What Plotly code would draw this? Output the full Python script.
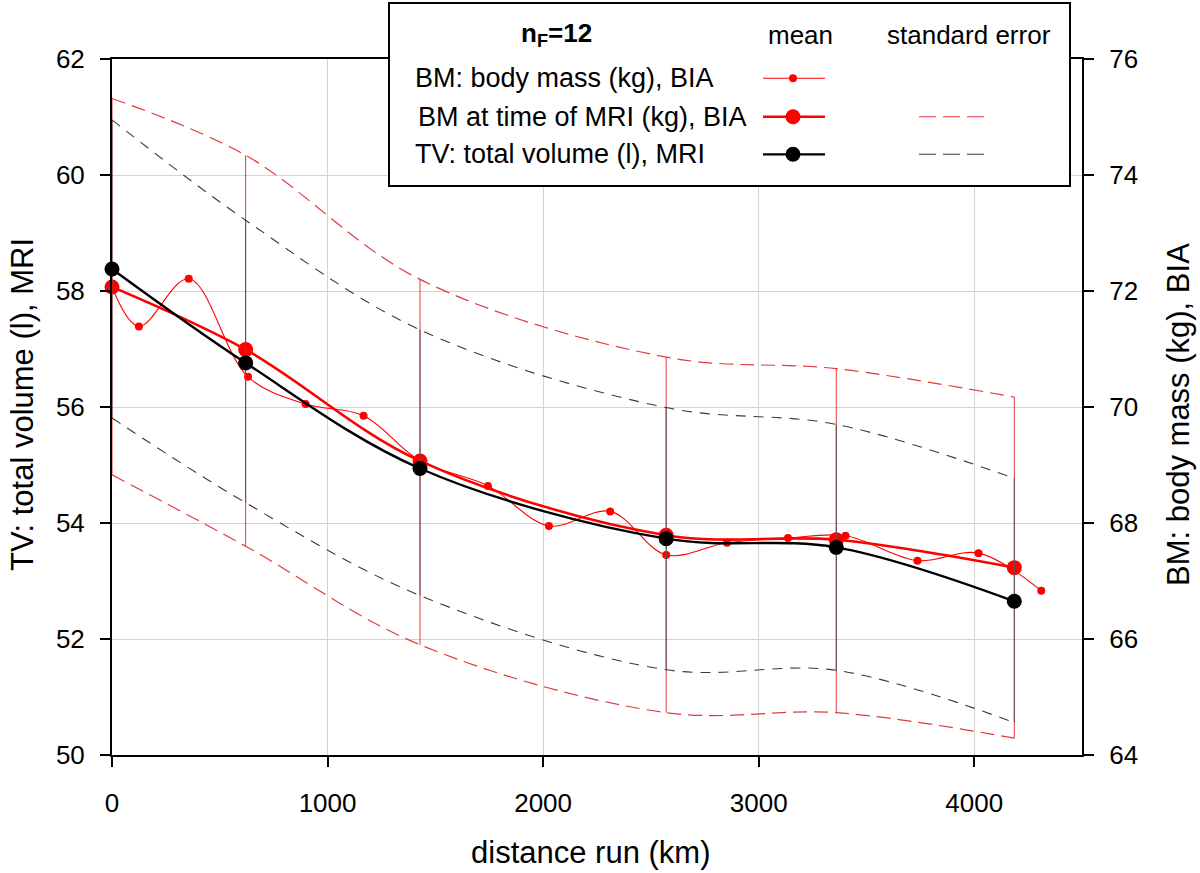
import plotly.graph_objects as go

# ---------------- data ----------------
mri_km = [0, 620, 1429, 2571, 3360, 4186]
tv_mean = [58.38, 56.76, 54.94, 53.73, 53.58, 52.65]
tv_se_upper = [60.95, 59.22, 57.33, 55.99, 55.70, 54.77]
tv_se_lower = [55.81, 54.35, 52.75, 51.47, 51.46, 50.56]

bm_mri_mean = [72.07, 70.99, 69.07, 67.79, 67.71, 67.23]
bm_mri_se_upper = [75.32, 74.34, 72.20, 70.86, 70.66, 70.17]
bm_mri_se_lower = [68.83, 67.60, 65.90, 64.73, 64.73, 64.29]

bia_km = [0, 125, 356, 631, 898, 1167, 1429, 1744, 2027, 2311, 2571, 2853,
          3136, 3403, 3737, 4020, 4311]
bia_bm = [72.07, 71.39, 72.21, 70.52, 70.05, 69.85, 69.07, 68.64, 67.95, 68.20,
          67.45, 67.66, 67.74, 67.78, 67.35, 67.48, 66.83]

x_ticks = [0, 1000, 2000, 3000, 4000]
tv_ticks = [50, 52, 54, 56, 58, 60, 62]
bm_ticks = [64, 66, 68, 70, 72, 74, 76]

# ---------------- styles ----------------
RED = "#ff0000"
RED_SE = "#e23a3a"
BLACK = "#000000"
GRAY_SE = "#3a3a3a"
FONT = "Liberation Sans, Arial, sans-serif"

W, H = 1200, 873
# target plot area on screen: x 112..1082, y 59..755
ML = 112
MT = 59
MR = W - 1082
MB = H - 755
PW, PH = W - ML - MR, H - MT - MB


def px(xs):
    """screen pixel x -> paper"""
    return (xs - ML) / PW


def py(ys):
    """screen pixel y -> paper"""
    return (H - MB - ys) / PH


def segments(xs, lo, hi):
    sx, sy = [], []
    for x, a, b in zip(xs, lo, hi):
        sx += [x, x, None]
        sy += [a, b, None]
    return sx, sy


fig = go.Figure()

# ---- BM (right axis, main y; drawn below) ----
rx, ry = segments(mri_km, bm_mri_se_lower, bm_mri_se_upper)
fig.add_trace(go.Scatter(x=rx, y=ry, mode="lines", yaxis="y",
                         line=dict(color=RED_SE, width=1), hoverinfo="skip",
                         showlegend=False))
for ys in (bm_mri_se_upper, bm_mri_se_lower):
    fig.add_trace(go.Scatter(x=mri_km, y=ys, mode="lines", yaxis="y",
                             line=dict(color=RED_SE, width=1.2, dash="14px,7px",
                                       shape="spline", smoothing=1.0),
                             showlegend=False))
fig.add_trace(go.Scatter(x=bia_km, y=bia_bm, mode="lines+markers", yaxis="y",
                         line=dict(color=RED, width=1.1, shape="spline", smoothing=1.0),
                         marker=dict(color=RED, size=8), cliponaxis=False,
                         showlegend=False))
fig.add_trace(go.Scatter(x=mri_km, y=bm_mri_mean, mode="lines+markers", yaxis="y",
                         line=dict(color=RED, width=2.6, shape="spline", smoothing=1.0),
                         marker=dict(color=RED, size=15), cliponaxis=False,
                         showlegend=False))

# ---- TV (left axis, overlaying; drawn above) ----
bx, by = segments(mri_km, tv_se_lower, tv_se_upper)
fig.add_trace(go.Scatter(x=bx, y=by, mode="lines", yaxis="y2",
                         line=dict(color="#555555", width=1), hoverinfo="skip",
                         showlegend=False))
for ys in (tv_se_upper, tv_se_lower):
    fig.add_trace(go.Scatter(x=mri_km, y=ys, mode="lines", yaxis="y2",
                             line=dict(color=GRAY_SE, width=1.1, dash="10px,8px",
                                       shape="spline", smoothing=1.0),
                             showlegend=False))
fig.add_trace(go.Scatter(x=mri_km, y=tv_mean, mode="lines+markers", yaxis="y2",
                         line=dict(color=BLACK, width=2.4, shape="spline", smoothing=1.0),
                         marker=dict(color=BLACK, size=15), cliponaxis=False,
                         showlegend=False))

# ---------------- legend (manual) ----------------
shapes = []
annotations = []
shapes.append(dict(type="rect", xref="paper", yref="paper",
                   x0=px(389), x1=px(1070), y0=py(186), y1=py(3),
                   fillcolor="white", line=dict(color="black", width=2), layer="above"))

rows = [
    ("BM: body mass (kg), BIA", 78.3, 413, RED, 1.1, 8, None),
    ("BM at time of MRI (kg), BIA", 116.7, 416, RED, 2.6, 15, RED_SE),
    ("TV: total volume (l), MRI", 154.3, 413, BLACK, 2.2, 15, GRAY_SE),
]
for text, yy, xx, col, lw, ms, secol in rows:
    annotations.append(dict(text=text, xref="paper", yref="paper", x=px(xx), y=py(yy),
                            xanchor="left", yanchor="middle", showarrow=False,
                            font=dict(size=27, color="black", family=FONT)))
    shapes.append(dict(type="line", xref="paper", yref="paper", x0=px(763), x1=px(825),
                       y0=py(yy), y1=py(yy), line=dict(color=col, width=lw), layer="above"))
    r = ms / 2
    shapes.append(dict(type="circle", xref="paper", yref="paper",
                       xsizemode="pixel", ysizemode="pixel",
                       xanchor=px(793), yanchor=py(yy), x0=-r, x1=r, y0=-r, y1=r,
                       fillcolor=col, line=dict(color=col, width=0), layer="above"))
    if secol:
        shapes.append(dict(type="line", xref="paper", yref="paper", x0=px(919), x1=px(987),
                           y0=py(yy), y1=py(yy),
                           line=dict(color=secol, width=1.1, dash="17px,7px"), layer="above"))

for text, xx in (("<b>n<sub>F</sub>=12</b>", 556), ("mean", 800), ("standard error", 969)):
    annotations.append(dict(text=text, xref="paper", yref="paper",
                            x=px(xx), y=py(35), xanchor="center", yanchor="middle",
                            showarrow=False, font=dict(size=26, color="black", family=FONT)))

# axis titles
annotations.append(dict(text="distance run (km)", xref="paper", yref="paper",
                        x=px(590), y=py(852), xanchor="center", yanchor="middle",
                        showarrow=False, font=dict(size=31, color="black", family=FONT)))
annotations.append(dict(text="TV: total volume (l), MRI", xref="paper", yref="paper",
                        x=px(22), y=py(405), xanchor="center", yanchor="middle",
                        textangle=-90, showarrow=False,
                        font=dict(size=31, color="black", family=FONT)))
annotations.append(dict(text="BM: body mass (kg), BIA", xref="paper", yref="paper",
                        x=px(1178), y=py(415), xanchor="center", yanchor="middle",
                        textangle=-90, showarrow=False,
                        font=dict(size=31, color="black", family=FONT)))

axis_common = dict(showline=True, linecolor="black", linewidth=2, ticks="outside",
                   ticklen=10, tickwidth=1.5, tickcolor="black", zeroline=False,
                   tickfont=dict(size=26, color="black", family=FONT))

fig.update_layout(
    width=W, height=H,
    margin=dict(l=ML, r=MR, t=MT, b=MB, pad=0),
    plot_bgcolor="white", paper_bgcolor="white",
    font=dict(family=FONT, color="black"),
    xaxis=dict(range=[0, 4500], tickvals=x_ticks, showgrid=True, gridcolor="#d4d4d4",
               gridwidth=1, mirror=True, ticklabelstandoff=14, **axis_common),
    yaxis=dict(range=[64, 76], tickvals=bm_ticks, side="right", showgrid=True,
               gridcolor="#d4d4d4", gridwidth=1, ticklabelstandoff=10, **axis_common),
    yaxis2=dict(range=[50, 62], tickvals=tv_ticks, overlaying="y", side="left",
                showgrid=False, ticklabelstandoff=10, **axis_common),
    shapes=shapes, annotations=annotations, showlegend=False,
)

fig.write_html("out.html", config={"displayModeBar": False},
               post_script="document.body.style.margin='0px';document.body.style.overflow='hidden';")
